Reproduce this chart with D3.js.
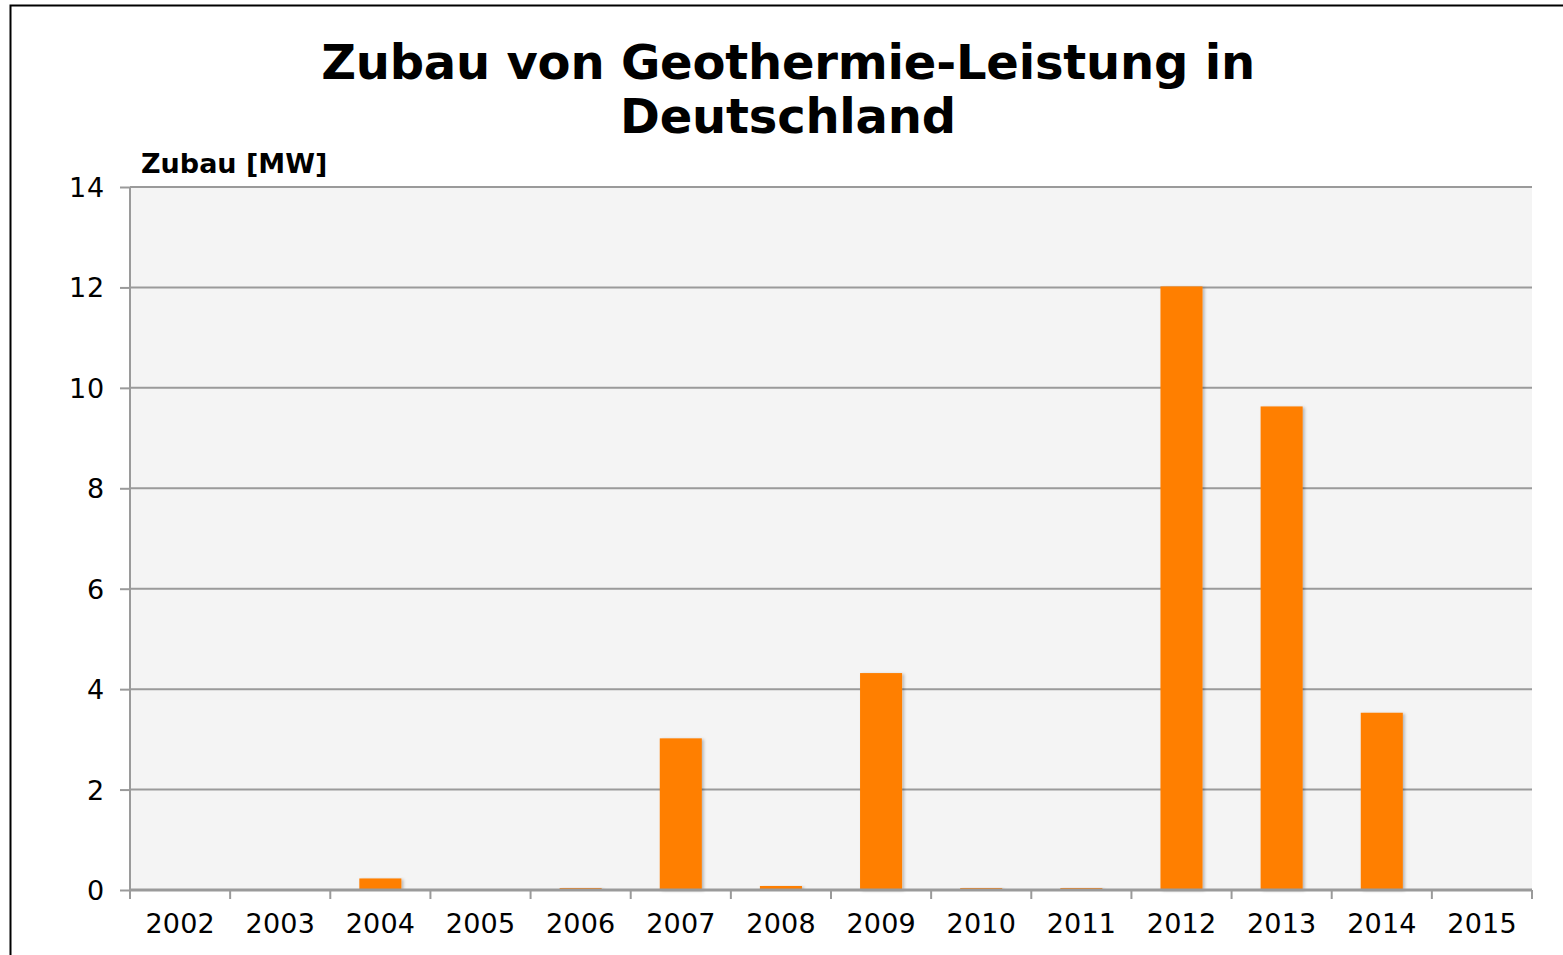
<!DOCTYPE html>
<html><head><meta charset="utf-8">
<script src="https://cdn.jsdelivr.net/npm/d3@7"></script>
<style>body{margin:0;background:#fff;overflow:hidden}svg{display:block}</style>
</head><body>
<script>
const years = ["2002","2003","2004","2005","2006","2007","2008","2009","2010","2011","2012","2013","2014","2015"];
const zubau = [0, 0, 0.23, 0, 0.04, 3.02, 0.08, 4.32, 0.04, 0.04, 12.02, 9.63, 3.53, 0];
const yTicks = [0, 2, 4, 6, 8, 10, 12, 14];
const titleLines = ["Zubau von Geothermie-Leistung in", "Deutschland"];
const yTitle = "Zubau [MW]";

const W = 1563, H = 955;
const svg = d3.select("body").append("svg").attr("width", W).attr("height", H);
const font = "'DejaVu Sans', Verdana, sans-serif";

svg.append("rect").attr("x", 10.5).attr("y", 5.5).attr("width", W + 10).attr("height", H + 10)
  .attr("fill", "#fff").attr("stroke", "#000").attr("stroke-width", 2);

const L = 130, R = 1532, T = 187, B = 890;
const x = d3.scaleBand().domain(years).range([L, R]).paddingInner(0.58).paddingOuter(0.29);
const xb = d3.scaleBand().domain(years).range([L, R]);
const y = d3.scaleLinear().domain([0, 14]).range([B, T]);

svg.append("rect").attr("x", L).attr("y", T).attr("width", R - L).attr("height", B - T).attr("fill", "#f4f4f4");

const defs = svg.append("defs");
const f = defs.append("filter").attr("id", "sh").attr("x", "-20%").attr("y", "-5%").attr("width", "150%").attr("height", "110%");
f.append("feDropShadow").attr("dx", 2).attr("dy", 1).attr("stdDeviation", 1.5).attr("flood-color", "#000").attr("flood-opacity", 0.25);

// gridlines
svg.append("g").selectAll("line").data(yTicks.filter(d => d > 0)).join("line")
  .attr("x1", L).attr("x2", R).attr("y1", d => y(d)).attr("y2", d => y(d))
  .attr("stroke", "#9a9a9a").attr("stroke-width", 2);

// bars
svg.append("g").selectAll("rect").data(years.map((yr, i) => ({yr, v: zubau[i]})).filter(d => d.v > 0)).join("rect")
  .attr("x", d => x(d.yr)).attr("width", x.bandwidth())
  .attr("y", d => y(d.v)).attr("height", d => Math.max(1, B - y(d.v)))
  .attr("fill", "#ff7f00").attr("filter", "url(#sh)");

// y axis
const ya = svg.append("g").attr("transform", `translate(${L},0)`)
  .call(d3.axisLeft(y).tickValues(yTicks).tickSize(10).tickPadding(25).tickFormat(d3.format("d")));
ya.select(".domain").attr("stroke", "#9a9a9a").attr("stroke-width", 2).attr("d", `M0,${T}V${B}`);
ya.selectAll(".tick line").attr("stroke", "#9a9a9a").attr("stroke-width", 2);
ya.selectAll("text").attr("font-family", font).attr("font-size", 27).attr("letter-spacing", 0.8)
  .attr("fill", "#000").attr("dy", "0.35em").attr("x", -25);

// x axis
const xa = svg.append("g").attr("transform", `translate(0,${B})`)
  .call(d3.axisBottom(xb).tickSize(0).tickPadding(24));
xa.select(".domain").attr("stroke", "#9a9a9a").attr("stroke-width", 3).attr("d", `M${L},0H${R}`);
xa.selectAll("text").attr("font-family", font).attr("font-size", 27).attr("letter-spacing", 0.2)
  .attr("fill", "#000").attr("dx", 0.1);
svg.append("g").selectAll("line").data(years.concat(["end"])).join("line")
  .attr("x1", (d, i) => L + i * xb.step()).attr("x2", (d, i) => L + i * xb.step())
  .attr("y1", B).attr("y2", B + 9).attr("stroke", "#9a9a9a").attr("stroke-width", 2);

// titles
svg.append("g").selectAll("text").data(titleLines).join("text")
  .attr("x", 788).attr("y", (d, i) => 79 + i * 54).attr("text-anchor", "middle")
  .attr("font-family", font).attr("font-weight", "bold").attr("font-size", 48).attr("letter-spacing", -0.2)
  .attr("fill", "#000").text(d => d);
svg.append("text").attr("x", 141).attr("y", 173).attr("font-family", font).attr("font-weight", "bold")
  .attr("font-size", 27).attr("fill", "#000").text(yTitle);
</script>
</body></html>
